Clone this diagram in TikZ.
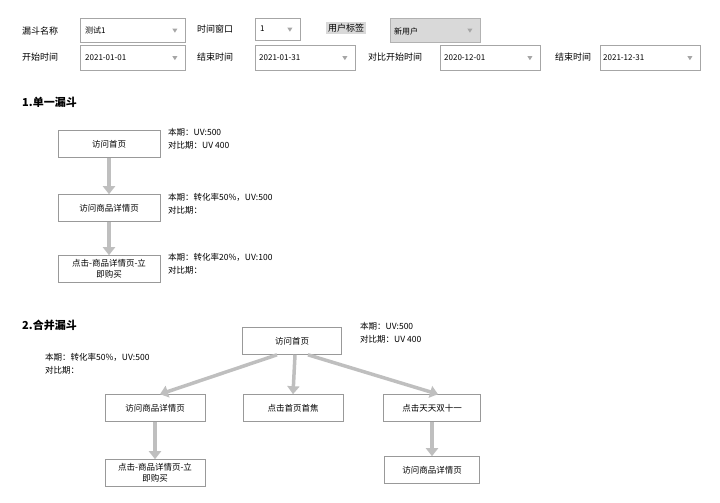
\documentclass[tikz,border=0pt]{standalone}
\usepackage{fontspec}
\setmainfont{Noto Sans CJK SC}
\usetikzlibrary{arrows.meta}
\begin{document}
\begin{tikzpicture}[x=1pt,y=-1pt,font=\fontsize{9}{11}\selectfont,
  lbl/.style={anchor=west,inner sep=0},
  stepbox/.style={draw=gray!80,line width=0.6pt,align=center,minimum width=102,minimum height=27,inner sep=1pt,font=\fontsize{8.5}{11}\selectfont},
  flow/.style={draw=gray!50,line width=3.5pt,-{Triangle[width=12pt,length=8pt]}},
  info/.style={anchor=north west,align=left,inner sep=0,font=\fontsize{8.5}{13}\selectfont}]
\useasboundingbox (0,0) rectangle (720,503);
% row 1
\node[lbl] (l1) at (22,31) {漏斗名称};
\node[draw=gray!70,anchor=north west,minimum width=105,minimum height=24] (b1) at (80,18) {};
\node[lbl,font=\fontsize{8}{10}\selectfont] (t1) at (85,30) {测试1};
\node[lbl] (l2) at (197,29) {时间窗口};
\node[draw=gray!70,anchor=north west,minimum width=45,minimum height=22] (b2) at (255,18) {};
\node[lbl,font=\fontsize{8}{10}\selectfont] (t2) at (260,29) {1};
\node[anchor=west,fill=gray!30,inner sep=2pt] (l3) at (326,28) {用户标签};
\node[draw=gray!60,fill=gray!30,anchor=north west,minimum width=90,minimum height=24] (b3) at (390,18) {};
\node[lbl,font=\fontsize{8}{10}\selectfont] (t3) at (394,31) {新用户};
% row 2
\node[lbl] (l4) at (22,57) {开始时间};
\node[draw=gray!70,anchor=north west,minimum width=105,minimum height=25] (b4) at (80,45) {};
\node[lbl,font=\fontsize{8}{10}\selectfont] (t4) at (85,58) {2021-01-01};
\node[lbl] (l5) at (197,57) {结束时间};
\node[draw=gray!70,anchor=north west,minimum width=100,minimum height=25] (b5) at (255,45) {};
\node[lbl,font=\fontsize{8}{10}\selectfont] (t5) at (259,58) {2021-01-31};
\node[lbl] (l6) at (368,57) {对比开始时间};
\node[draw=gray!70,anchor=north west,minimum width=100,minimum height=25] (b6) at (440,45) {};
\node[lbl,font=\fontsize{8}{10}\selectfont] (t6) at (444,58) {2020-12-01};
\node[lbl] (l7) at (555,57) {结束时间};
\node[draw=gray!70,anchor=north west,minimum width=100,minimum height=25] (b7) at (600,45) {};
\node[lbl,font=\fontsize{8}{10}\selectfont] (t7) at (603,58) {2021-12-31};
\foreach \n in {b1,b2,b3,b4,b5,b6,b7}{
  \fill[gray!70] ([xshift=-13pt,yshift=1.5pt]\n.east) -- ++(5,0) -- ++(-2.5,4) -- cycle;}
% section 1
\node[lbl,font=\bfseries\fontsize{11}{13}\selectfont] (s1) at (22,102) {1.单一漏斗};
\node[stepbox] (a1) at (109,144) {访问首页};
\node[stepbox] (a2) at (109,208) {访问商品详情页};
\node[stepbox,text width=100] (a3) at (109,269) {点击-商品详情页-立\\即购买};
\node[info] (i1) at (168,128) {本期：UV:500\\对比期：UV 400};
\node[info] (i2) at (168,193) {本期：转化率50\%，UV:500\\对比期：};
\node[info] (i3) at (168,253) {本期：转化率20\%，UV:100\\对比期：};
\draw[flow] (a1) -- (a2);
\draw[flow] (a2) -- (a3);
% section 2
\node[lbl,font=\bfseries\fontsize{11}{13}\selectfont] (s2) at (22,325) {2.合并漏斗};
\node[stepbox,minimum width=99] (m1) at (292,341) {访问首页};
\node[info] (i4) at (360,322) {本期：UV:500\\对比期：UV 400};
\node[info] (i5) at (45,353) {本期：转化率50\%，UV:500\\对比期：};
\node[stepbox,minimum width=100] (m2) at (155,408) {访问商品详情页};
\node[stepbox,minimum width=100] (m3) at (293,408) {点击首页首焦};
\node[stepbox,minimum width=97] (m4) at (432,408) {点击天天双十一};
\node[stepbox,minimum width=100,text width=98] (m5) at (155,473) {点击-商品详情页-立\\即购买};
\node[stepbox,minimum width=95] (m6) at (432,470) {访问商品详情页};
\draw[flow] ([xshift=-15pt]m1.south) -- ([xshift=5pt]m2.north);
\draw[flow] ([xshift=3pt]m1.south) -- (m3.north);
\draw[flow] ([xshift=16pt]m1.south) -- ([xshift=6pt]m4.north);
\draw[flow] (m2) -- (m5);
\draw[flow] (m4) -- (m6);
\end{tikzpicture}
\end{document}
